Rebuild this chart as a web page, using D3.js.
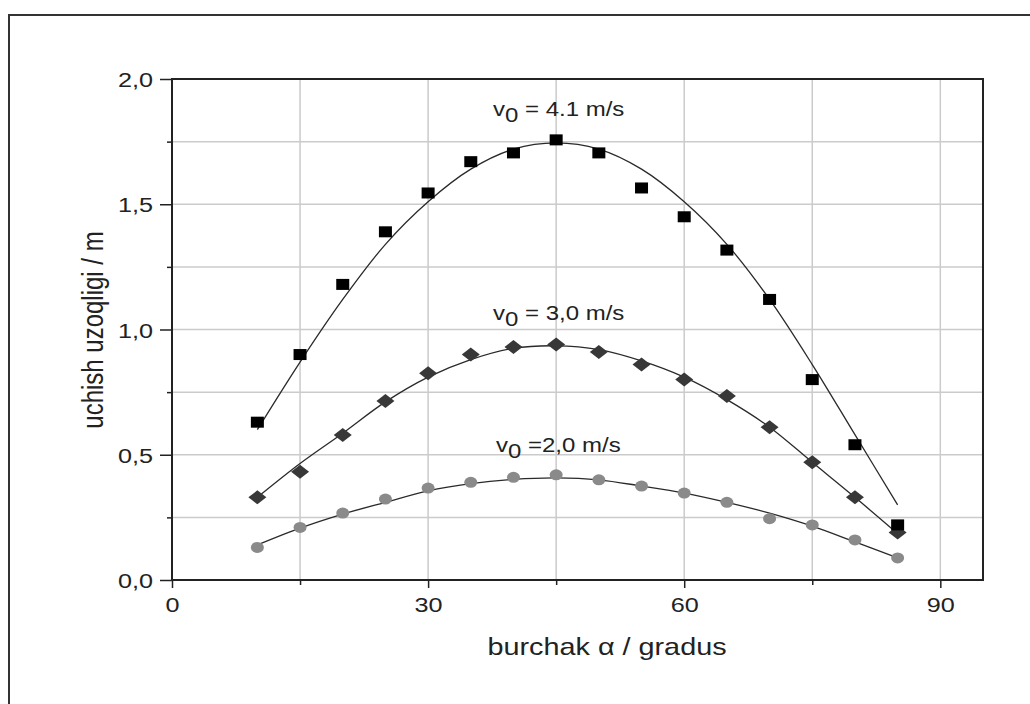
<!DOCTYPE html>
<html>
<head>
<meta charset="utf-8">
<script src="https://cdn.jsdelivr.net/npm/d3@7"></script>
<style>
  body { margin: 0; background: #fff; }
  text { font-family: "Liberation Sans", Arial, sans-serif; fill: #222; }
</style>
</head>
<body>
<div id="chart"></div>
<script>
// Data ------------------------------------------------------------
var angles = [10, 15, 20, 25, 30, 35, 40, 45, 50, 55, 60, 65, 70, 75, 80, 85];

// measured points
var meas41 = [0.63, 0.90, 1.18, 1.39, 1.545, 1.67, 1.705, 1.757, 1.705, 1.565, 1.45, 1.317, 1.12, 0.80, 0.54, 0.22];
var meas30 = [0.33, 0.432, 0.579, 0.715, 0.825, 0.90, 0.93, 0.94, 0.91, 0.86, 0.80, 0.735, 0.61, 0.47, 0.33, 0.19];
var meas20 = [0.13, 0.21, 0.267, 0.323, 0.367, 0.39, 0.41, 0.42, 0.40, 0.375, 0.347, 0.31, 0.245, 0.22, 0.16, 0.088];

// fitted curves
var fit41 = [0.60, 0.87, 1.12, 1.34, 1.51, 1.64, 1.72, 1.745, 1.72, 1.64, 1.51, 1.34, 1.12, 0.86, 0.58, 0.30];
var fit30 = [0.33, 0.465, 0.586, 0.711, 0.81, 0.88, 0.925, 0.935, 0.92, 0.875, 0.81, 0.72, 0.61, 0.47, 0.33, 0.185];
var fit20 = [0.14, 0.207, 0.263, 0.31, 0.356, 0.385, 0.402, 0.408, 0.40, 0.375, 0.347, 0.31, 0.267, 0.215, 0.152, 0.088];

var labels = ["v0 = 4.1 m/s", "v0 = 3,0 m/s", "v0 =2,0 m/s"];
var labelPos = [[493, 116], [493, 320], [496, 452]]; // x px, baseline px

var xMajor = [0, 30, 60, 90];
var xMinor = [15, 45, 75];
var yMajor = [0, 0.5, 1.0, 1.5, 2.0];
var yMinor = [0.25, 0.75, 1.25, 1.75];
var xGrid = [15, 30, 45, 60, 75, 90];
var yGrid = [0.25, 0.5, 0.75, 1.0, 1.25, 1.5, 1.75];

// Layout ----------------------------------------------------------
var W = 1030, H = 704;
var plot = { left: 172, right: 983, top: 79, bottom: 580 };
var stretch = 1.2; // the text in the picture is wider than tall

var svg = d3.select("#chart")
    .append("svg")
    .attr("width", W)
    .attr("height", H);

// outer page frame (top + left edges only)
svg.append("path")
    .attr("d", "M9," + H + " L9,15 L" + W + ",15")
    .attr("fill", "none")
    .attr("stroke", "#333")
    .attr("stroke-width", 2);

var x = d3.scaleLinear().domain([0, 95]).range([plot.left, plot.right]);
var y = d3.scaleLinear().domain([0, 2]).range([plot.bottom, plot.top]);

var comma = d3.formatLocale({ decimal: ",", thousands: ".", grouping: [3], currency: ["", ""] }).format(".1f");

// Grid ------------------------------------------------------------
svg.append("g").selectAll("line")
    .data(xGrid).enter().append("line")
    .attr("x1", function (d) { return x(d); })
    .attr("x2", function (d) { return x(d); })
    .attr("y1", plot.top)
    .attr("y2", plot.bottom)
    .attr("stroke", "#cbcbcb")
    .attr("stroke-width", 1.5);

svg.append("g").selectAll("line")
    .data(yGrid).enter().append("line")
    .attr("y1", function (d) { return y(d); })
    .attr("y2", function (d) { return y(d); })
    .attr("x1", plot.left)
    .attr("x2", plot.right)
    .attr("stroke", "#cbcbcb")
    .attr("stroke-width", 1.5);

// Axes ------------------------------------------------------------
// minor ticks first, majors with labels on top
svg.append("g")
    .attr("transform", "translate(0," + plot.bottom + ")")
    .call(d3.axisBottom(x).tickValues(xMinor).tickSize(5).tickFormat(""))
    .call(function (g) { g.select(".domain").remove(); })
    .selectAll("line").attr("stroke", "#222").attr("stroke-width", 1.5);

var xAxis = svg.append("g")
    .attr("transform", "translate(0," + plot.bottom + ")")
    .call(d3.axisBottom(x).tickValues(xMajor).tickSize(8).tickSizeOuter(0));
xAxis.select(".domain").remove();
xAxis.selectAll("line").attr("stroke", "#222").attr("stroke-width", 1.5);
xAxis.selectAll("text")
    .attr("y", 32)
    .attr("dy", 0)
    .attr("transform", "scale(" + stretch + ",1)")
    .style("font-size", "21px")
    .style("fill", "#222");

svg.append("g")
    .attr("transform", "translate(" + plot.left + ",0)")
    .call(d3.axisLeft(y).tickValues(yMinor).tickSize(5).tickFormat(""))
    .call(function (g) { g.select(".domain").remove(); })
    .selectAll("line").attr("stroke", "#222").attr("stroke-width", 1.5);

var yAxis = svg.append("g")
    .attr("transform", "translate(" + plot.left + ",0)")
    .call(d3.axisLeft(y).tickValues(yMajor).tickSize(12).tickFormat(comma));
yAxis.select(".domain").remove();
yAxis.selectAll("line").attr("stroke", "#222").attr("stroke-width", 1.5);
yAxis.selectAll("text")
    .attr("x", -19 / stretch)
    .attr("dy", "0.36em")
    .attr("transform", "scale(" + stretch + ",1)")
    .style("font-size", "21px")
    .style("fill", "#222");

// plot box
svg.append("rect")
    .attr("x", plot.left)
    .attr("y", plot.top)
    .attr("width", plot.right - plot.left)
    .attr("height", plot.bottom - plot.top)
    .attr("fill", "none")
    .attr("stroke", "#222")
    .attr("stroke-width", 2);

// Curves ----------------------------------------------------------
var line = d3.line()
    .x(function (d) { return x(d[0]); })
    .y(function (d) { return y(d[1]); })
    .curve(d3.curveCatmullRom);

[fit41, fit30, fit20].forEach(function (fit) {
    svg.append("path")
        .datum(d3.zip(angles, fit))
        .attr("d", line)
        .attr("fill", "none")
        .attr("stroke", "#2a2a2a")
        .attr("stroke-width", 1.3);
});

// Markers ---------------------------------------------------------
// grey circles (v0 = 2,0)
svg.append("g").selectAll("ellipse")
    .data(d3.zip(angles, meas20)).enter().append("ellipse")
    .attr("cx", function (d) { return x(d[0]); })
    .attr("cy", function (d) { return y(d[1]); })
    .attr("rx", 6.5)
    .attr("ry", 5.5)
    .attr("fill", "#8a8a8a");

// dark diamonds (v0 = 3,0)
svg.append("g").selectAll("path")
    .data(d3.zip(angles, meas30)).enter().append("path")
    .attr("transform", function (d) { return "translate(" + x(d[0]) + "," + y(d[1]) + ")"; })
    .attr("d", "M0,-7 L9,0 L0,7 L-9,0 Z")
    .attr("fill", "#383838");

// black squares (v0 = 4.1)
svg.append("g").selectAll("rect")
    .data(d3.zip(angles, meas41)).enter().append("rect")
    .attr("x", function (d) { return x(d[0]) - 6.5; })
    .attr("y", function (d) { return y(d[1]) - 5.5; })
    .attr("width", 13)
    .attr("height", 11)
    .attr("fill", "#000");

// Annotations -----------------------------------------------------
labels.forEach(function (txt, i) {
    var t = svg.append("text")
        .attr("transform", "translate(" + labelPos[i][0] + "," + labelPos[i][1] + ") scale(" + stretch + ",1)")
        .style("font-size", "20px");
    t.append("tspan").text(txt.slice(0, 1));
    t.append("tspan").attr("dy", 6).text(txt.slice(1, 2));
    t.append("tspan").attr("dy", -6).text(txt.slice(2));
});

// Axis titles -----------------------------------------------------
svg.append("text")
    .attr("transform", "translate(607,655) scale(" + stretch + ",1)")
    .attr("text-anchor", "middle")
    .style("font-size", "24px")
    .text("burchak α / gradus");

svg.append("text")
    .attr("transform", "translate(103,330) scale(" + stretch + ",1) rotate(-90)")
    .attr("text-anchor", "middle")
    .style("font-size", "24px")
    .text("uchish uzoqligi / m");
</script>
</body>
</html>
